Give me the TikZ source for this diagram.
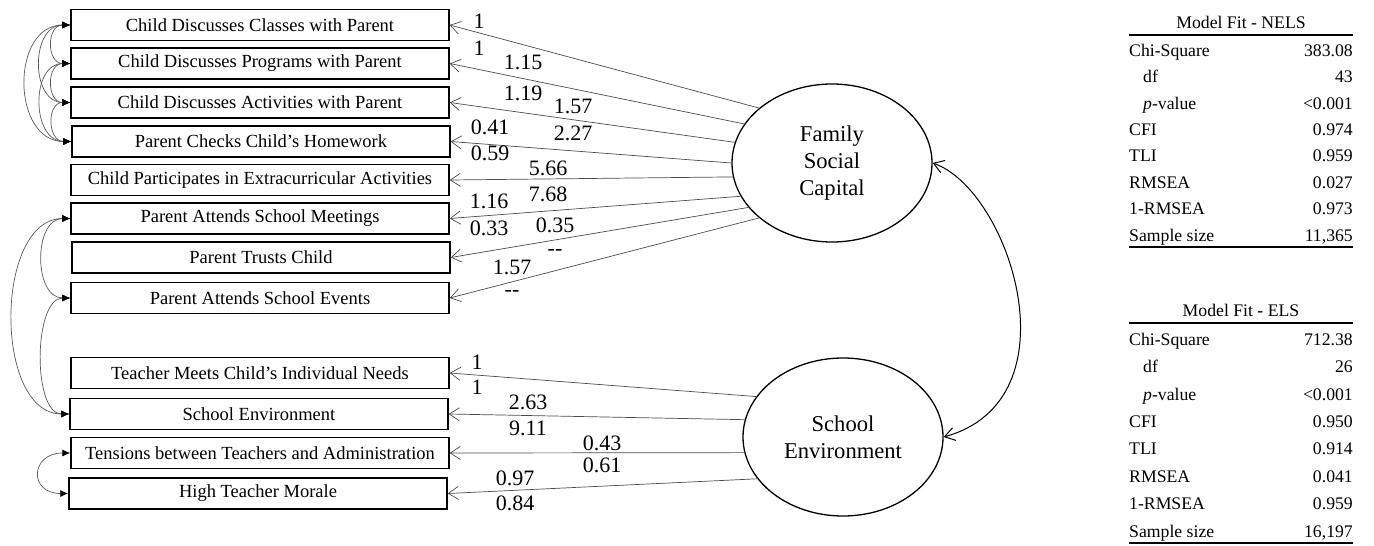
\documentclass[tikz,border=0pt]{standalone}
\usepackage{fontspec}
\setmainfont{Liberation Serif}
\usetikzlibrary{arrows.meta,shapes.geometric}
\begin{document}
\begin{tikzpicture}[x=1pt,y=-1pt,
 obs/.style={draw, line width=1.4pt, minimum width=378pt, minimum height=31pt, inner sep=0pt, font=\fontsize{18.5}{20}\selectfont},
 lat/.style={draw, ellipse, line width=1.3pt, minimum width=200pt, minimum height=158pt, inner sep=0pt, align=center, font=\fontsize{22.6}{27}\selectfont},
 load/.style={draw=black!70, line width=0.7pt, -{Straight Barb[length=10pt,width=13pt]}},
 cov/.style={draw=black!65, line width=0.7pt, {Latex[length=8pt,width=7pt,black]}-{Latex[length=8pt,width=7pt,black]}},
 bigcov/.style={draw, line width=1pt, {Straight Barb[length=10pt,width=13pt]}-{Straight Barb[length=10pt,width=13pt]}},
 num/.style={font=\fontsize{22}{24}\selectfont, inner sep=0pt},
 tab/.style={font=\fontsize{17.7}{20}\selectfont, inner sep=0pt, text height=12.5pt, text depth=4pt},
 rulel/.style={line width=1.2pt}
]
\useasboundingbox (0,0) rectangle (1374,546);

% observed variables
\node[obs] (b1) at (260,25) {Child Discusses Classes with Parent};
\node[obs] (b2) at (260,63.5) {Child Discusses Programs with Parent};
\node[obs] (b3) at (260,102.5) {Child Discusses Activities with Parent};
\node[obs] (b4) at (261,141.5) {Parent Checks Child’s Homework};
\node[obs] (b5) at (260,180) {Child Participates in Extracurricular Activities};
\node[obs] (b6) at (260,218.5) {Parent Attends School Meetings};
\node[obs] (b7) at (261,257.5) {Parent Trusts Child};
\node[obs] (b8) at (260,298) {Parent Attends School Events};
\node[obs] (b9) at (260,373) {Teacher Meets Child’s Individual Needs};
\node[obs] (b10) at (259,414) {School Environment};
\node[obs] (b11) at (260,453) {Tensions between Teachers and Administration};
\node[obs] (b12) at (258,493.5) {High Teacher Morale};

% latent variables
\node[lat] (fsc) at (832,163) {Family\\Social\\Capital};
\node[lat] (se) at (843,437) {School\\Environment};

% loadings
\draw[load] (fsc.143.7) -- (b1.east);
\draw[load] (fsc.156.9) -- (b2.east);
\draw[load] (fsc.168.6) -- (b3.east);
\draw[load] (fsc.180) -- (b4.east);
\draw[load] (fsc.188.6) -- (b5.east);
\draw[load] (fsc.200.3) -- (b6.east);
\draw[load] (fsc.208.4) -- (b7.east);
\draw[load] (fsc.217.2) -- (b8.east);
\draw[load] (se.155.1) -- (b9.east);
\draw[load] (se.170.7) -- (b10.east);
\draw[load] (se.189.8) -- (b11.east);
\draw[load] (se.206) -- (b12.east);

% loading labels
\node[num] (l1a) at (479,21) {1};
\node[num] (l1b) at (479,48) {1};
\node[num] (l2a) at (523,62) {1.15};
\node[num] (l2b) at (523,93) {1.19};
\node[num] (l3a) at (573,106) {1.57};
\node[num] (l3b) at (573,133) {2.27};
\node[num] (l4a) at (490,127) {0.41};
\node[num] (l4b) at (490,153) {0.59};
\node[num] (l5a) at (548,168) {5.66};
\node[num] (l5b) at (548,194) {7.68};
\node[num] (l6a) at (489,201) {1.16};
\node[num] (l6b) at (489,228) {0.33};
\node[num] (l7a) at (555,225) {0.35};
\node[num] (l7b) at (555,252) {-\kern0pt-};
\node[num] (l8a) at (512,267) {1.57};
\node[num] (l8b) at (512,293) {-\kern0pt-};
\node[num] (l9a) at (477,362) {1};
\node[num] (l9b) at (477,387) {1};
\node[num] (l10a) at (528,402) {2.63};
\node[num] (l10b) at (528,428) {9.11};
\node[num] (l11a) at (602,443) {0.43};
\node[num] (l11b) at (602,465) {0.61};
\node[num] (l12a) at (515,478) {0.97};
\node[num] (l12b) at (515,503) {0.84};

% residual covariances
\draw[cov] (b1.west) to[out=180,in=180,distance=24pt] (b2.west);
\draw[cov] (b2.west) to[out=180,in=180,distance=24pt] (b3.west);
\draw[cov] (b3.west) to[out=180,in=180,distance=24pt] (b4.west);
\draw[cov] (b1.west) to[out=180,in=180,distance=40pt] (b3.west);
\draw[cov] (b2.west) to[out=180,in=180,distance=40pt] (b4.west);
\draw[cov] (b1.west) to[out=180,in=180,distance=60pt] (b4.west);
\draw[cov] (b6.west) to[out=180,in=180,distance=37pt] (b8.west);
\draw[cov] (b8.west) to[out=180,in=180,distance=37pt] (b10.west);
\draw[cov] (b6.west) to[out=180,in=180,distance=76pt] (b10.west);
\draw[cov] (b11.west) to[out=180,in=180,distance=40pt] (b12.west);

% latent covariance
\draw[bigcov] (fsc.east) .. controls (1010,190) and (1078,400) .. (se.east);

% table NELS
\node[tab] (t1) at (1241,24) {Model Fit - NELS};
\draw[rulel] (1129,35) -- (1353,35);
\draw[rulel] (1129,247) -- (1353,247);
\node[tab,anchor=west] (n1l) at (1129,52) {Chi-Square};
\node[tab,anchor=east] (n1r) at (1353,52) {383.08};
\node[tab,anchor=west] (n2l) at (1143,78.4) {df};
\node[tab,anchor=east] (n2r) at (1353,78.4) {43};
\node[tab,anchor=west] (n3l) at (1143,104.8) {\textit{p}-value};
\node[tab,anchor=east] (n3r) at (1353,104.8) {<0.001};
\node[tab,anchor=west] (n4l) at (1129,131.2) {CFI};
\node[tab,anchor=east] (n4r) at (1353,131.2) {0.974};
\node[tab,anchor=west] (n5l) at (1129,157.6) {TLI};
\node[tab,anchor=east] (n5r) at (1353,157.6) {0.959};
\node[tab,anchor=west] (n6l) at (1129,184) {RMSEA};
\node[tab,anchor=east] (n6r) at (1353,184) {0.027};
\node[tab,anchor=west] (n7l) at (1129,210.4) {1-RMSEA};
\node[tab,anchor=east] (n7r) at (1353,210.4) {0.973};
\node[tab,anchor=west] (n8l) at (1129,236.8) {Sample size};
\node[tab,anchor=east] (n8r) at (1353,236.8) {11,365};

% table ELS
\node[tab] (t2) at (1241,312) {Model Fit - ELS};
\draw[rulel] (1129,323) -- (1353,323);
\draw[rulel] (1129,543) -- (1353,543);
\node[tab,anchor=west] (e1l) at (1129,341) {Chi-Square};
\node[tab,anchor=east] (e1r) at (1353,341) {712.38};
\node[tab,anchor=west] (e2l) at (1143,368.4) {df};
\node[tab,anchor=east] (e2r) at (1353,368.4) {26};
\node[tab,anchor=west] (e3l) at (1143,395.8) {\textit{p}-value};
\node[tab,anchor=east] (e3r) at (1353,395.8) {<0.001};
\node[tab,anchor=west] (e4l) at (1129,423.2) {CFI};
\node[tab,anchor=east] (e4r) at (1353,423.2) {0.950};
\node[tab,anchor=west] (e5l) at (1129,450.6) {TLI};
\node[tab,anchor=east] (e5r) at (1353,450.6) {0.914};
\node[tab,anchor=west] (e6l) at (1129,478) {RMSEA};
\node[tab,anchor=east] (e6r) at (1353,478) {0.041};
\node[tab,anchor=west] (e7l) at (1129,505.4) {1-RMSEA};
\node[tab,anchor=east] (e7r) at (1353,505.4) {0.959};
\node[tab,anchor=west] (e8l) at (1129,532.8) {Sample size};
\node[tab,anchor=east] (e8r) at (1353,532.8) {16,197};
\end{tikzpicture}
\end{document}
